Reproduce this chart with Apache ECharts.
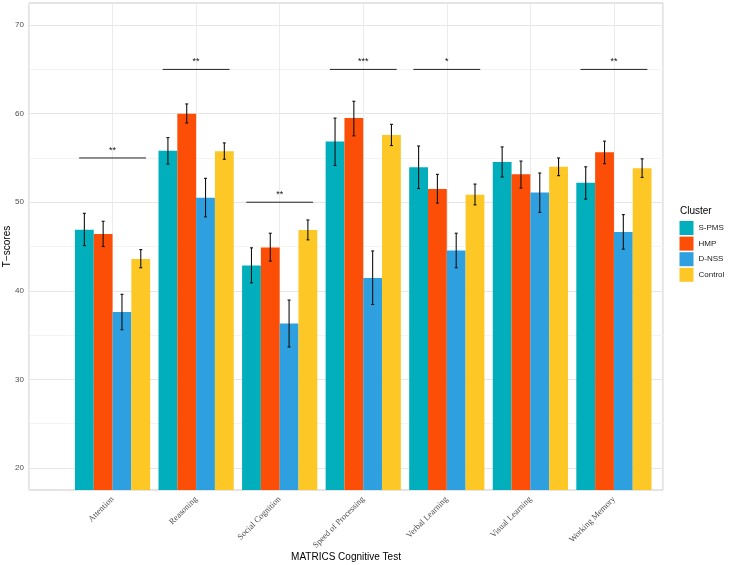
<!DOCTYPE html>
<html>
<head>
<meta charset="utf-8">
<script src="https://cdn.jsdelivr.net/npm/echarts@6/dist/echarts.min.js"></script>
<style>html,body{margin:0;padding:0;background:#fff;}#c{width:729px;height:565px;}</style>
</head>
<body>
<div id="c"></div>
<script>
const categories = ['Attention', 'Reasoning', 'Social Cognition', 'Speed of Processing', 'Verbal Learning', 'Visual Learning', 'Working Memory'];
const clusters = ['S-PMS', 'HMP', 'D-NSS', 'Control'];
const colors = ['#00AFBB', '#FC4E07', '#2E9FDF', '#FDC726'];

const sPMS      = [46.9, 55.8, 42.85, 56.85, 53.95, 54.55, 52.2];
const sPMSLow   = [45.1, 54.3, 40.9, 54.15, 51.55, 52.85, 50.35];
const sPMSHigh  = [48.75, 57.3, 44.85, 59.5, 56.35, 56.25, 54.0];

const hmp       = [46.4, 60.0, 44.9, 59.5, 51.5, 53.15, 55.65];
const hmpLow    = [45.0, 58.95, 43.35, 57.5, 49.9, 51.6, 54.35];
const hmpHigh   = [47.85, 61.1, 46.5, 61.4, 53.15, 54.65, 56.9];

const dNSS      = [37.6, 50.5, 36.3, 41.45, 44.55, 51.1, 46.65];
const dNSSLow   = [35.6, 48.35, 33.65, 38.45, 42.6, 48.85, 44.7];
const dNSSHigh  = [39.6, 52.7, 38.95, 44.5, 46.5, 53.3, 48.6];

const control     = [43.6, 55.75, 46.85, 57.6, 50.85, 54.0, 53.85];
const controlLow  = [42.6, 54.85, 45.75, 56.4, 49.7, 53.0, 52.8];
const controlHigh = [44.65, 56.7, 48.0, 58.8, 52.05, 55.0, 54.9];

const sigLevel = [55, 65, 50, 65, 65, null, 65];
const sigLabel = ['**', '**', '**', '***', '*', '', '**'];

const yTicks = [20, 30, 40, 50, 60, 70];

const values = [sPMS, hmp, dNSS, control];
const lows = [sPMSLow, hmpLow, dNSSLow, controlLow];
const highs = [sPMSHigh, hmpHigh, dNSSHigh, controlHigh];

// layout
const plotLeft = 29, plotRight = 663, plotTop = 3, plotBottom = 490;
const unit = 83.56;
const xMax = (plotRight - (plotLeft + unit)) / unit;

const barFrac = 0.225;

const errData = [];
values.forEach((vals, k) => {
  vals.forEach((v, i) => { errData.push([i, lows[k][i], highs[k][i], k]); });
});

const sigData = [];
const sigText = [];
sigLevel.forEach((lv, i) => {
  if (lv !== null) { sigData.push([i, lv]); sigText.push(sigLabel[i]); }
});

const chart = echarts.init(document.getElementById('c'), null, {renderer: 'canvas'});

const series = clusters.map((name, k) => ({
  name: name,
  type: 'bar',
  xAxisIndex: 1,
  yAxisIndex: 1,
  data: values[k],
  barWidth: (barFrac * 100) + '%',
  barGap: '0%',
  itemStyle: {color: colors[k]},
  emphasis: {disabled: true},
  z: 2
}));

series.push({
  type: 'custom',
  name: 'errorbars',
  xAxisIndex: 1,
  yAxisIndex: 1,
  data: errData,
  z: 5,
  renderItem: function (params, api) {
    const x = api.value(0), lo = api.value(1), hi = api.value(2), k = api.value(3);
    const pLo = api.coord([x, lo]);
    const pHi = api.coord([x, hi]);
    const band = api.size([1, 0])[0];
    const cx = pLo[0] + (k - 1.5) * band * barFrac;
    const st = {stroke: '#111', lineWidth: 1.1};
    return {
      type: 'group',
      children: [
        {type: 'line', shape: {x1: cx, y1: pLo[1], x2: cx, y2: pHi[1]}, style: st},
        {type: 'line', shape: {x1: cx - 1.5, y1: pLo[1], x2: cx + 1.5, y2: pLo[1]}, style: st},
        {type: 'line', shape: {x1: cx - 1.5, y1: pHi[1], x2: cx + 1.5, y2: pHi[1]}, style: st}
      ]
    };
  }
});

series.push({
  type: 'custom',
  name: 'significance',
  xAxisIndex: 1,
  yAxisIndex: 1,
  data: sigData,
  z: 6,
  renderItem: function (params, api) {
    const x = api.value(0), lv = api.value(1);
    const p = api.coord([x, lv]);
    const band = api.size([1, 0])[0];
    const half = band * 0.4;
    return {
      type: 'group',
      children: [
        {type: 'line', shape: {x1: p[0] - half, y1: p[1], x2: p[0] + half, y2: p[1]}, style: {stroke: '#222', lineWidth: 1}},
        {type: 'text', x: p[0], y: p[1] - 3, style: {text: sigText[params.dataIndex], fill: '#111', font: '9px "Liberation Sans", Arial, sans-serif', align: 'center', verticalAlign: 'bottom'}}
      ]
    };
  }
});

const option = {
  animation: false,
  backgroundColor: '#fff',
  title: {
    text: 'Cluster',
    left: 680,
    top: 206,
    padding: 0,
    textStyle: {fontSize: 10, fontWeight: 'normal', color: '#000', fontFamily: '"Liberation Sans", Arial, sans-serif'}
  },
  graphic: [{
    type: 'text',
    x: 7,
    y: (plotTop + plotBottom) / 2,
    rotation: Math.PI / 2,
    style: {text: 'T\u2212scores', fill: '#000', font: '10px "Liberation Sans", Arial, sans-serif', align: 'center', verticalAlign: 'middle'}
  }],
  legend: {
    data: clusters,
    orient: 'vertical',
    left: 679.5,
    top: 221,
    padding: 0,
    itemWidth: 14,
    itemHeight: 14,
    itemGap: 1.6,
    icon: 'rect',
    selectedMode: false,
    textStyle: {fontSize: 8, color: '#1a1a1a', fontFamily: '"Liberation Sans", Arial, sans-serif'}
  },
  grid: [
    {left: plotLeft, top: plotTop, width: plotRight - plotLeft, height: plotBottom - plotTop, show: true, borderColor: '#c9c9c9', borderWidth: 1, backgroundColor: 'transparent', containLabel: false, outerBoundsMode: 'none'},
    {left: plotLeft + unit / 2, top: plotTop, width: unit * categories.length, height: plotBottom - plotTop, show: false, containLabel: false, outerBoundsMode: 'none'}
  ],
  xAxis: [
    {
      type: 'value', gridIndex: 0, min: -1, max: xMax, interval: 1,
      axisLine: {show: false}, axisTick: {show: false}, axisLabel: {show: false},
      splitLine: {show: true, lineStyle: {color: '#ebebeb', width: 1}},
      name: 'MATRICS Cognitive Test', nameLocation: 'middle', nameGap: 62,
      nameTextStyle: {fontSize: 10, color: '#000', fontFamily: '"Liberation Sans", Arial, sans-serif'}
    },
    {
      type: 'category', gridIndex: 1, data: categories, boundaryGap: true,
      axisLine: {show: false}, axisTick: {show: false}, splitLine: {show: false},
      axisLabel: {rotate: 45, margin: 8, fontSize: 8.5, color: '#4d4d4d', fontFamily: '"Liberation Serif", "Times New Roman", serif', interval: 0}
    }
  ],
  yAxis: [
    {
      type: 'value', gridIndex: 0, min: 17.5, max: 72.5, interval: 2.5,
      axisLine: {show: false}, axisTick: {show: false},
      axisLabel: {margin: 5, fontSize: 8, color: '#4d4d4d', fontFamily: '"Liberation Sans", Arial, sans-serif',
        formatter: function (v) { return yTicks.indexOf(Math.round(v * 100) / 100) >= 0 ? String(Math.round(v)) : ''; }},
      splitLine: {show: true, lineStyle: {color: ['rgba(0,0,0,0)', '#e6e6e6', 'rgba(0,0,0,0)', '#f3f3f3'], width: 1}}
    },
    {
      type: 'value', gridIndex: 1, min: 17.5, max: 72.5, show: false,
      splitLine: {show: false}
    }
  ],
  series: series
};

chart.setOption(option);
</script>
</body>
</html>
